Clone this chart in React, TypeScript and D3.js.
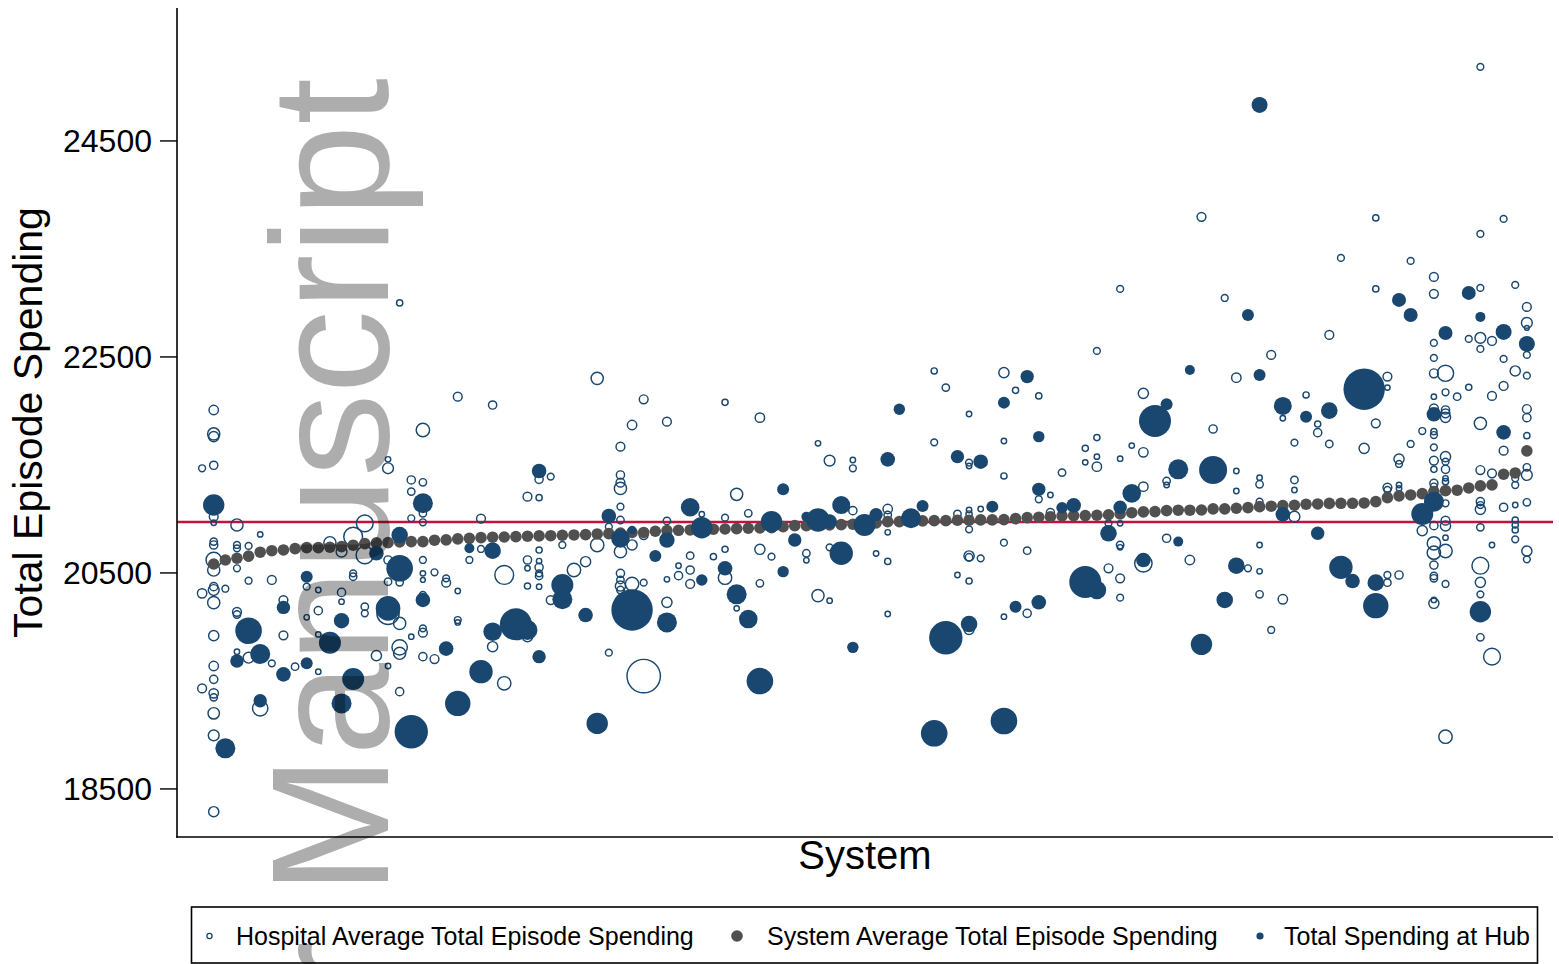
import React from 'react';
import * as d3 from 'd3';

// ---------- data ----------
const yTicks = [18500, 20500, 22500, 24500];
const nationalAverage = 20972;

// system average total episode spending, systems ranked 0..113
const systemAverage = [
  20583, 20620, 20636, 20657, 20692, 20706, 20713, 20725, 20734, 20734,
  20738, 20744, 20757, 20771, 20778, 20781, 20787, 20790, 20790, 20803,
  20806, 20815, 20821, 20827, 20831, 20833, 20836, 20840, 20843, 20845,
  20849, 20852, 20855, 20861, 20864, 20870, 20875, 20875, 20886, 20892,
  20895, 20898, 20902, 20905, 20907, 20910, 20914, 20917, 20919, 20929,
  20938, 20938, 20942, 20944, 20947, 20951, 20952, 20963, 20975, 20975,
  20982, 20982, 20984, 20984, 20988, 20988, 20991, 20991, 20994, 21003,
  21012, 21016, 21021, 21028, 21031, 21031, 21034, 21039, 21046, 21058,
  21065, 21068, 21077, 21081, 21081, 21083, 21093, 21093, 21099, 21105,
  21114, 21118, 21123, 21127, 21136, 21139, 21144, 21145, 21145, 21148,
  21160, 21197, 21213, 21222, 21234, 21253, 21262, 21266, 21287, 21306,
  21315, 21414, 21426, 21630,
];

// hospitals: [system rank, average total episode spending, episodes]
const hospitals: [number, number, number][] = [
  [-1, 21469, 160], [-1, 20311, 281], [-1, 19431, 250],
  [0, 22009, 281], [0, 21787, 449], [0, 21762, 325], [0, 21497, 221], [0, 21021, 250], [0, 20965, 109],
  [0, 20790, 185], [0, 20759, 221], [0, 20620, 689], [0, 20527, 449], [0, 20373, 221], [0, 20342, 360],
  [0, 20225, 449], [0, 19919, 325], [0, 19638, 281], [0, 19515, 221], [0, 19385, 281], [0, 19348, 185],
  [0, 19200, 397], [0, 18996, 360], [0, 18289, 325],
  [1, 20354, 160],
  [2, 20944, 449], [2, 20759, 160], [2, 20728, 160], [2, 20543, 160], [2, 20140, 250], [2, 20115, 185], [2, 19771, 109],
  [3, 20750, 160], [3, 20651, 250], [3, 20428, 160], [3, 19715, 360],
  [4, 20857, 109], [4, 19246, 689],
  [5, 20435, 250], [5, 19663, 160],
  [6, 20249, 250], [6, 19922, 250],
  [7, 19632, 185],
  [8, 20373, 160], [8, 20089, 109],
  [9, 20342, 109], [9, 20151, 221], [9, 19931, 109], [9, 19586, 109],
  [10, 20780, 449],
  [11, 20697, 360], [11, 20320, 221], [11, 20234, 109],
  [12, 20836, 1000], [12, 20496, 160], [12, 20465, 185],
  [13, 20959, 810], [13, 20666, 865], [13, 20188, 185], [13, 20126, 160],
  [14, 19734, 325],
  [15, 21552, 109], [15, 21469, 360], [15, 20620, 221], [15, 20419, 185], [15, 19638, 109], [15, 20125, 1369],
  [16, 23000, 137], [16, 20413, 185], [16, 20033, 449], [16, 19811, 689], [16, 19756, 449], [16, 19401, 221],
  [17, 21361, 221], [17, 21253, 185], [17, 21006, 160], [17, 19910, 109],
  [18, 21824, 533], [18, 21339, 185], [18, 21052, 185], [18, 20969, 160], [18, 20620, 160], [18, 20496, 109],
  [18, 20435, 90], [18, 20296, 160], [18, 19987, 160], [18, 19947, 250], [18, 19725, 221],
  [19, 20506, 160], [19, 19703, 250],
  [20, 20450, 160], [20, 20410, 250],
  [21, 22132, 250], [21, 20333, 109], [21, 20064, 160], [21, 20042, 109],
  [22, 20620, 160],
  [23, 21003, 250], [23, 20722, 160],
  [24, 22055, 221], [24, 19817, 325],
  [25, 20481, 1000], [25, 19478, 533],
  [27, 21206, 250], [27, 20620, 221], [27, 20543, 109], [27, 20379, 137], [27, 19910, 325],
  [28, 21367, 221], [28, 21197, 137], [28, 20712, 137], [28, 20610, 109], [28, 20552, 221], [28, 20496, 160],
  [28, 20472, 185], [28, 20373, 109],
  [29, 21392, 160], [29, 20249, 250],
  [30, 20759, 160],
  [31, 20527, 533],
  [32, 20604, 325],
  [33, 22302, 449], [33, 20759, 533],
  [34, 20928, 160], [34, 19762, 160],
  [35, 21669, 250], [35, 21407, 221], [35, 21336, 250], [35, 21283, 449], [35, 21114, 160], [35, 20990, 185],
  [35, 20697, 449], [35, 20496, 221], [35, 20435, 185], [35, 20379, 325], [35, 20342, 185],
  [36, 21870, 281], [36, 20759, 325], [36, 20398, 533],
  [37, 22108, 250], [37, 20851, 250], [37, 20410, 160], [37, 19545, 2993],
  [39, 21901, 250], [39, 20981, 185], [39, 20441, 109], [39, 20228, 325],
  [40, 20567, 109], [40, 20475, 221],
  [41, 20660, 185], [41, 20527, 221], [41, 20398, 250],
  [42, 21043, 109],
  [43, 20651, 137],
  [44, 22080, 137], [44, 21012, 160], [44, 20719, 137], [44, 20456, 533],
  [45, 21228, 449], [45, 20172, 109],
  [46, 21052, 185],
  [47, 21938, 281], [47, 20719, 325], [47, 20404, 185],
  [48, 20651, 160],
  [51, 20682, 185], [51, 20617, 109],
  [52, 21700, 109], [52, 20290, 449],
  [53, 21540, 360], [53, 20737, 160], [53, 20243, 109],
  [55, 21546, 109], [55, 21469, 160], [55, 21077, 221],
  [57, 20680, 109],
  [58, 21092, 281], [58, 21037, 185], [58, 20876, 109], [58, 20607, 137], [58, 20120, 109],
  [62, 22370, 137], [62, 21709, 160],
  [63, 22216, 185],
  [64, 21046, 185], [64, 20481, 109],
  [65, 21972, 109], [65, 21521, 160], [65, 21490, 109], [65, 21083, 109], [65, 21046, 137], [65, 20904, 160],
  [65, 20657, 325], [65, 20645, 185], [65, 20425, 137], [65, 19978, 325],
  [66, 21092, 109], [66, 20635, 160],
  [68, 22355, 325], [68, 21722, 109], [68, 21398, 137], [68, 20780, 160], [68, 20095, 109],
  [69, 22191, 137],
  [70, 20706, 185], [70, 20126, 221],
  [71, 22139, 137], [71, 21182, 160],
  [72, 21222, 109], [72, 21058, 221],
  [73, 21429, 185],
  [75, 21654, 137], [75, 21524, 109],
  [76, 22556, 160], [76, 21753, 137], [76, 21577, 109], [76, 21484, 281],
  [77, 20959, 160], [77, 20543, 250],
  [78, 23130, 160], [78, 21558, 109], [78, 20959, 109], [78, 20759, 185], [78, 20737, 109], [78, 20450, 250], [78, 20271, 160],
  [79, 21679, 109],
  [80, 22163, 325], [80, 21617, 281], [80, 21299, 281], [80, 20589, 865],
  [82, 21351, 185], [82, 21314, 109], [82, 20821, 221],
  [84, 20620, 281],
  [85, 23797, 250],
  [86, 21833, 221],
  [87, 23046, 160],
  [88, 22308, 281], [88, 21444, 109], [88, 21259, 109],
  [89, 20543, 160],
  [90, 21382, 109], [90, 21321, 185], [90, 21160, 160], [90, 20759, 109], [90, 20515, 109], [90, 20302, 185],
  [91, 22519, 250], [91, 19972, 160],
  [92, 21932, 109], [92, 20256, 281],
  [93, 21706, 160], [93, 21361, 185], [93, 21268, 109], [93, 21021, 360],
  [94, 22148, 137],
  [95, 21879, 137], [95, 21799, 221],
  [96, 22704, 250], [96, 21694, 185],
  [97, 23417, 160],
  [99, 21654, 325],
  [100, 23787, 137], [100, 23130, 137], [100, 21885, 250],
  [101, 22318, 250], [101, 22216, 109], [101, 21290, 250], [101, 21268, 160], [101, 20481, 160], [101, 20410, 185],
  [102, 21555, 325], [102, 21509, 160], [102, 21314, 109], [102, 21283, 109], [102, 20481, 221],
  [103, 23389, 160], [103, 21694, 160],
  [104, 21814, 160], [104, 20892, 325],
  [105, 23241, 250], [105, 23084, 250], [105, 22630, 160], [105, 22491, 160], [105, 22349, 250], [105, 22132, 109],
  [105, 22024, 250], [105, 21808, 137], [105, 21777, 160], [105, 21663, 160], [105, 21540, 250], [105, 21459, 137],
  [105, 21330, 221], [105, 21300, 160], [105, 20938, 221], [105, 20774, 533], [105, 20688, 533], [105, 20573, 221],
  [105, 20472, 185], [105, 20450, 185], [105, 20250, 109], [105, 20219, 325],
  [106, 22349, 757], [106, 22173, 160], [106, 22009, 221], [106, 21978, 250], [106, 21941, 325], [106, 21577, 325],
  [106, 21530, 160], [106, 21459, 221], [106, 21376, 109], [106, 21345, 137], [106, 21145, 160], [106, 20984, 250],
  [106, 20935, 325], [106, 20827, 109], [106, 20703, 533], [106, 20398, 160], [106, 18984, 533],
  [107, 22132, 185],
  [108, 22667, 160], [108, 22219, 137],
  [109, 25186, 160], [109, 23639, 160], [109, 23139, 160], [109, 22676, 360], [109, 22574, 160], [109, 21885, 449],
  [109, 21453, 250], [109, 21160, 221], [109, 21129, 160], [109, 21089, 325], [109, 20922, 185], [109, 20567, 810],
  [109, 20413, 325], [109, 20302, 160], [109, 19904, 185],
  [110, 22648, 250], [110, 22139, 250], [110, 21422, 250], [110, 20759, 109], [110, 19725, 810],
  [111, 23778, 160], [111, 22482, 160], [111, 22231, 250], [111, 21632, 250], [111, 21108, 221],
  [112, 23167, 160], [112, 22370, 325], [112, 21376, 160], [112, 21314, 160], [112, 21129, 109], [112, 20990, 137],
  [112, 20944, 137], [112, 20898, 137], [112, 20811, 160],
  [113, 22963, 250], [113, 22815, 360], [113, 22769, 90], [113, 22519, 160], [113, 22327, 160], [113, 22018, 250],
  [113, 21938, 221], [113, 21771, 137], [113, 21478, 185], [113, 21407, 360], [113, 21154, 185], [113, 20703, 325],
  [113, 20626, 160],
];

// hubs: [system rank, total spending at hub, episodes]
const hubs: [number, number, number][] = [
  [0, 21129, 1145], [1, 18876, 1000], [2, 19684, 449], [3, 19965, 1769], [4, 19749, 1000], [4, 19317, 449],
  [6, 20181, 449], [6, 19561, 533], [8, 20465, 360], [8, 19663, 360], [10, 19854, 1210], [11, 20058, 593],
  [11, 19292, 1000], [12, 19518, 1210], [14, 20682, 533], [15, 20172, 1513], [16, 20851, 689], [16, 20543, 1769],
  [17, 19030, 2789], [18, 21145, 1000], [18, 20250, 533], [20, 19799, 533], [21, 19292, 1613], [22, 20728, 250],
  [23, 19586, 1369], [24, 20706, 689], [24, 19956, 865], [26, 20024, 2560], [27, 19972, 1000], [28, 21444, 533],
  [28, 19725, 449], [30, 20388, 1210], [30, 20256, 1000], [32, 20110, 533], [33, 19107, 1145], [34, 21027, 533],
  [35, 20820, 865], [36, 20898, 185], [36, 20157, 4285], [38, 20657, 360], [39, 20805, 593], [39, 20042, 1000],
  [41, 21108, 865], [42, 20919, 1145], [42, 20435, 325], [44, 20543, 533], [45, 20302, 1000], [46, 20073, 865],
  [47, 19499, 1769], [48, 20975, 1145], [49, 21274, 360], [49, 20512, 325], [50, 20805, 449], [51, 21021, 250],
  [52, 20990, 1369], [53, 20975, 533], [54, 21129, 810], [54, 20682, 1369], [55, 19811, 325], [56, 20944, 1210],
  [57, 21040, 450], [58, 21552, 533], [59, 22015, 325], [60, 21006, 1000], [61, 21120, 360], [62, 19015, 1769],
  [63, 19900, 2789], [64, 21577, 449], [65, 20027, 689], [66, 21530, 533], [67, 21114, 360], [68, 22077, 360],
  [68, 19129, 1769], [69, 20188, 360], [70, 22318, 449], [71, 21762, 325], [71, 21274, 449], [71, 20228, 533],
  [73, 21104, 325], [74, 21126, 533], [75, 20416, 2560], [76, 20342, 865], [77, 20867, 689], [78, 21108, 449],
  [79, 21237, 865], [80, 20620, 533], [81, 21907, 2560], [82, 22061, 360], [83, 21459, 1000], [83, 20790, 250],
  [84, 22379, 250], [85, 19839, 1145], [86, 21453, 1960], [87, 20250, 689], [88, 20567, 689], [89, 22889, 360],
  [90, 24834, 640], [90, 22333, 360], [92, 22046, 810], [92, 21043, 533], [94, 21947, 360], [95, 20867, 449],
  [96, 22003, 689], [97, 20552, 1369], [98, 20425, 533], [99, 22201, 4285], [100, 20410, 689], [100, 20197, 1613],
  [102, 23028, 490], [103, 22889, 490], [104, 21046, 1210], [105, 21969, 533], [105, 21160, 1000], [106, 22722, 490],
  [108, 23093, 490], [109, 22871, 250], [109, 20141, 1145], [111, 22732, 640], [111, 21802, 533], [113, 22621, 640],
];

const legendLabels = [
  'Hospital Average Total Episode Spending',
  'System Average Total Episode Spending',
  'Total Spending at Hub',
];

// ---------- chart ----------
const W = 1559;
const H = 964;
const NAVY = '#1a476f';
const GREY = '#505050';
const RED = '#c4103c';
const FONT = '"Liberation Sans", Arial, Helvetica, sans-serif';

export default function App() {
  const plot = { left: 177, right: 1553, top: 8, bottom: 837 };
  const x = d3.scaleLinear().domain([-3.16, 115.25]).range([plot.left, plot.right]);
  const y = d3.scaleLinear().domain([18055, 25731]).range([plot.bottom, plot.top]);
  const r = d3.scaleSqrt().domain([0, 1000]).range([0, 10]);

  const legendY = 936;
  const legendItems = [
    { mx: 209.5, tx: 236, kind: 'hollow' },
    { mx: 737, tx: 767, kind: 'grey' },
    { mx: 1260, tx: 1284, kind: 'hub' },
  ];

  return (
    <div style={{ position: 'absolute', left: 0, top: 0, width: W, height: H, overflow: 'hidden', background: '#fff' }}>
      <svg width={W} height={H} viewBox={`0 0 ${W} ${H}`} style={{ display: 'block', fontFamily: FONT }}>
        <rect x={0} y={0} width={W} height={H} fill="#fff" />

        {/* reference line */}
        <line x1={plot.left} x2={plot.right} y1={y(nationalAverage)} y2={y(nationalAverage)} stroke={RED} strokeWidth={2.6} />

        {/* hospitals (hollow) */}
        <g fill="none" stroke={NAVY} strokeWidth={1.45}>
          {hospitals.map(([s, v, n], i) => (
            <circle key={i} cx={x(s)} cy={y(v)} r={Math.max(1.5, r(n) - 0.6)} />
          ))}
        </g>

        {/* system averages */}
        <g fill={GREY}>
          {systemAverage.map((v, i) => (
            <circle key={i} cx={x(i)} cy={y(v)} r={5.8} />
          ))}
        </g>

        {/* hubs (filled) */}
        <g fill={NAVY}>
          {hubs.map(([s, v, n], i) => (
            <circle key={i} cx={x(s)} cy={y(v)} r={r(n)} />
          ))}
        </g>

        {/* axes */}
        <line x1={plot.left} x2={plot.left} y1={plot.top} y2={plot.bottom + 0.75} stroke="#000" strokeWidth={1.6} />
        <line x1={plot.left - 0.75} x2={plot.right} y1={plot.bottom} y2={plot.bottom} stroke="#000" strokeWidth={1.6} />
        {yTicks.map((t) => (
          <g key={t}>
            <line x1={plot.left - 17} x2={plot.left} y1={y(t)} y2={y(t)} stroke="#000" strokeWidth={1.4} />
            <text x={plot.left - 25} y={y(t) + 11.3} textAnchor="end" fontSize={32} fill="#000">
              {t}
            </text>
          </g>
        ))}

        {/* axis titles */}
        <text transform={`translate(42, ${(plot.top + plot.bottom) / 2}) rotate(-90)`} textAnchor="middle" fontSize={41} fill="#000">
          Total Episode Spending
        </text>
        <text x={(plot.left + plot.right) / 2} y={869} textAnchor="middle" fontSize={40} fill="#000">
          System
        </text>

        {/* legend */}
        <rect x={191.5} y={907} width={1346} height={56} fill="#fff" stroke="#000" strokeWidth={1.6} />
        {legendItems.map((it, i) => (
          <g key={i}>
            {it.kind === 'hollow' && <circle cx={it.mx} cy={legendY} r={2.6} fill="none" stroke={NAVY} strokeWidth={1.3} />}
            {it.kind === 'grey' && <circle cx={it.mx} cy={legendY} r={5.8} fill={GREY} />}
            {it.kind === 'hub' && <circle cx={it.mx} cy={legendY} r={3.6} fill={NAVY} />}
            <text x={it.tx} y={legendY + 9} fontSize={25} fill="#000">
              {legendLabels[i]}
            </text>
          </g>
        ))}

        {/* watermark */}
        <text
          transform="translate(388, 78) rotate(-90)"
          textAnchor="end"
          fontSize={167}
          fill="#000"
          fillOpacity={0.32}
        >
          Author Manuscript
        </text>
      </svg>
    </div>
  );
}
